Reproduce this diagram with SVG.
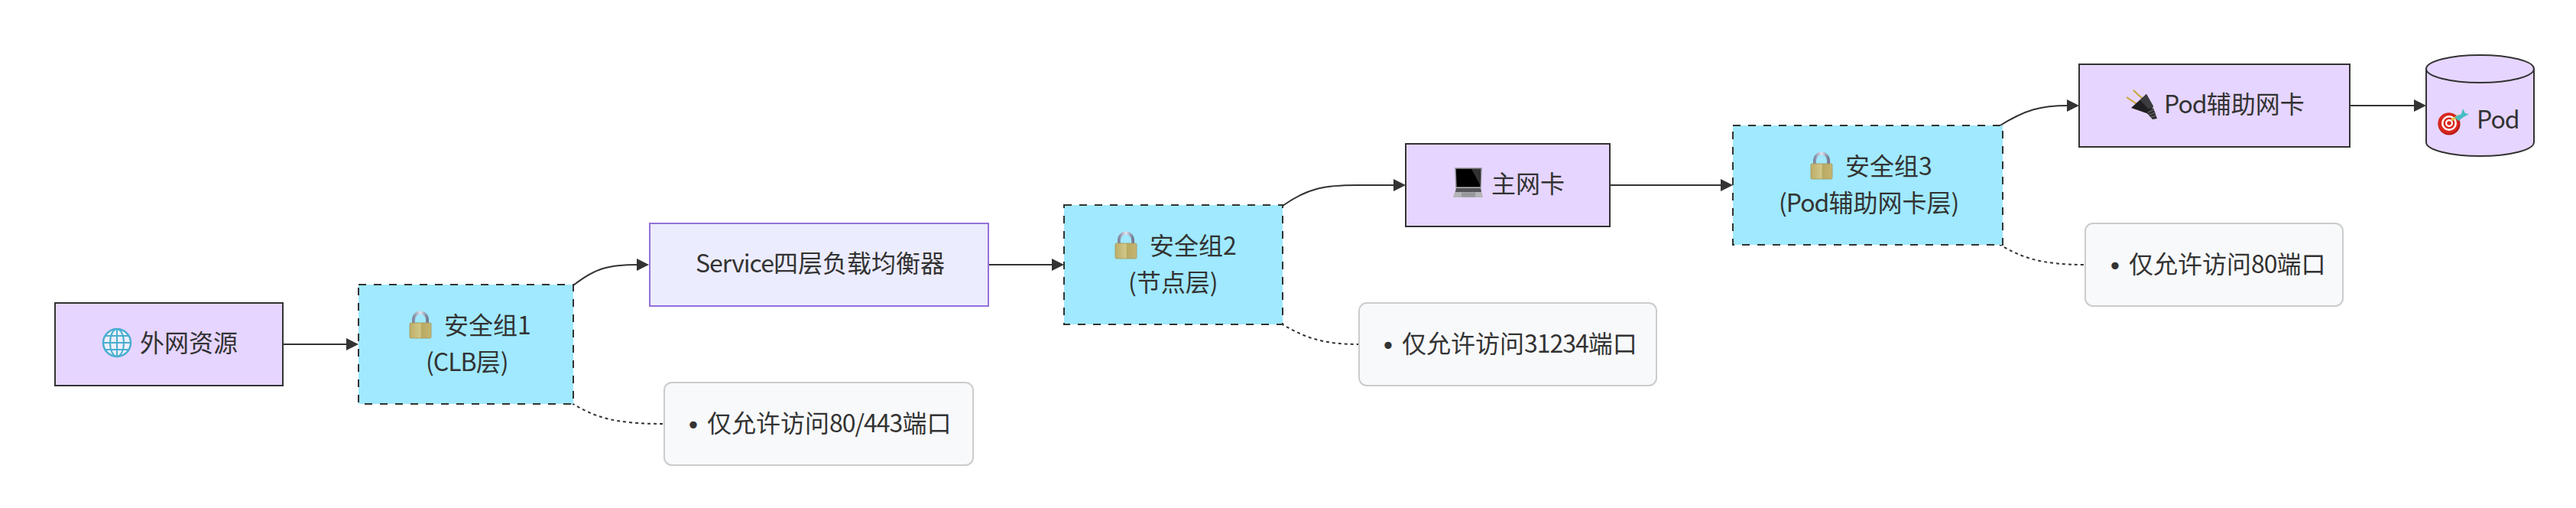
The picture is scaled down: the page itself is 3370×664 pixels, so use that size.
<svg xmlns="http://www.w3.org/2000/svg" width="3370" height="664" viewBox="0 0 3370 664">
<style>
text{font-family:"Noto Sans CJK SC","Noto Sans",sans-serif;font-size:32px;fill:#333}
text.b{font-family:"DejaVu Sans",sans-serif}
tspan.l{letter-spacing:-1px}
.res{fill:#e6d5ff;stroke:#333;stroke-width:2}
.sec{fill:#a0e9ff;stroke:#333;stroke-width:2;stroke-dasharray:10 10}
.svc{fill:#ececff;stroke:#9370db;stroke-width:2}
.note{fill:#f8f9fa;stroke:#ccc;stroke-width:2}
.flow{fill:none;stroke:#333;stroke-width:2}
.dot{fill:none;stroke:#333;stroke-width:2;stroke-dasharray:4 4}
</style>
<defs>
<marker id="arrow" markerUnits="userSpaceOnUse" markerWidth="16" markerHeight="16" refX="2" refY="8" orient="auto"><path d="M0,0L16,8L0,16z" fill="#333"/></marker>
<linearGradient id="gold" x1="0" x2="1" y1="0" y2="0"><stop offset="0" stop-color="#bcae68"/><stop offset=".5" stop-color="#d2c788"/><stop offset=".55" stop-color="#b8a962"/><stop offset="1" stop-color="#c4b673"/></linearGradient>
<linearGradient id="shackle" x1="0" x2="1" y1="0" y2="0"><stop offset="0" stop-color="#7f88a0"/><stop offset=".5" stop-color="#e4e6f0"/><stop offset="1" stop-color="#727b94"/></linearGradient>
<g id="lock">
<path d="M5,16V11A9,9.500 0 0 1 23,11V16" fill="none" stroke="url(#shackle)" stroke-width="4"/>
<rect x="0" y="15" width="28" height="20" rx="1.500" fill="url(#gold)" stroke="#a3945a" stroke-width=".8"/>
</g>
<g id="globe">
<circle cx="19" cy="19" r="18" fill="#eef0fb" stroke="#4aaed0" stroke-width="2.500"/>
<ellipse cx="19" cy="19" rx="9" ry="18" fill="none" stroke="#4aaed0" stroke-width="2"/>
<path d="M19,1V37M3,10H35M1,19H37M3,28H35" fill="none" stroke="#4aaed0" stroke-width="2"/>
</g>
<g id="laptop">
<path d="M3,0H37L36,25H4z" fill="#000" stroke="#8d8d95" stroke-width="1.500"/>
<path d="M24,1H36L35,21z" fill="#333"/>
<path d="M4,25H36L39,38H0z" fill="#b4b4b8"/>
<path d="M4,26H36L37,31H3z" fill="#55555a"/>
<rect x="11" y="31.500" width="18" height="6" fill="#97979c"/>
</g>
<g id="plug">
<path d="M0,10L15,20M9,1L22,13" stroke="#c9a52f" stroke-width="2" fill="none"/>
<path d="M6,24L26,6L35,22L29,32z" fill="#1f1f21"/>
<path d="M18,14L26,6L35,22L29,26z" fill="#3c3c40"/>
<path d="M26,30L35,24L40,38L34,39z" fill="#2e2e30"/>
<path d="M28,30L36,26M30,33L38,30M32,36L39,34" stroke="#77777b" stroke-width="1" fill="none"/>
</g>
<g id="dart">
<circle cx="15" cy="20" r="14.500" fill="#b81a14"/>
<circle cx="14" cy="19" r="13.500" fill="#d9281e"/>
<circle cx="15" cy="19" r="10" fill="#fff"/>
<circle cx="15" cy="19" r="7.500" fill="#d9281e"/>
<circle cx="15" cy="19" r="5" fill="#fff"/>
<circle cx="15" cy="19" r="2.800" fill="#d9281e"/>
<path d="M18,15L28,9" stroke="#e0c040" stroke-width="3"/>
<path d="M22,11L31,7L33,0L36,6L41,7L34,11L27,16z" fill="#46bcc4"/>
</g>
</defs>
<rect width="3370" height="664" fill="#fff"/>
<g id="connectors">
<path class="flow" marker-end="url(#arrow)" d="M370,450H455"/>
<path class="flow" marker-end="url(#arrow)" d="M750,373C778,351 795,346 835,346"/>
<path class="flow" marker-end="url(#arrow)" d="M1293,346H1378"/>
<path class="flow" marker-end="url(#arrow)" d="M1678,269C1712,245 1735,242 1775,242L1825,242"/>
<path class="flow" marker-end="url(#arrow)" d="M2106,242H2253"/>
<path class="flow" marker-end="url(#arrow)" d="M2615,165C2650,143 2670,138 2706,138"/>
<path class="flow" marker-end="url(#arrow)" d="M3074,138H3160"/>
<path class="dot" d="M748,527C778,545 802,554 868,554"/>
<path class="dot" d="M1676,423C1706,441 1730,450 1778,450"/>
<path class="dot" d="M2615,319C2645,337 2670,346 2728,346"/>
</g>
<g id="node-internet"><rect class="res" x="72" y="396" width="298" height="108"/><use href="#globe" x="134" y="429"/><text x="183" y="460">外网资源</text></g>
<g id="node-sg1"><rect class="sec" x="469" y="372" width="281" height="156"/><use href="#lock" x="536" y="407"/><text x="581" y="437">安全组<tspan class="l">1</tspan></text><text x="557" y="485"><tspan class="l">(CLB</tspan>层)</text></g>
<g id="node-note1"><rect class="note" x="869" y="500" width="404" height="108" rx="10"/><text class="b" x="897.500" y="567">•</text><text x="925" y="565">仅允许访问<tspan class="l">80/443</tspan>端口</text></g>
<g id="node-clb"><rect class="svc" x="850" y="292" width="443" height="108"/><text x="910" y="356"><tspan class="l">Service</tspan>四层负载均衡器</text></g>
<g id="node-sg2"><rect class="sec" x="1392" y="268" width="286" height="156"/><use href="#lock" x="1459" y="303"/><text x="1504" y="333">安全组<tspan class="l">2</tspan></text><text x="1476" y="381">(节点层)</text></g>
<g id="node-note2"><rect class="note" x="1778" y="396" width="389" height="108" rx="10"/><text class="b" x="1806.500" y="463">•</text><text x="1834" y="461">仅允许访问<tspan class="l">31234</tspan>端口</text></g>
<g id="node-eni"><rect class="res" x="1839" y="188" width="267" height="108"/><use href="#laptop" x="1901" y="220"/><text x="1951" y="252">主网卡</text></g>
<g id="node-sg3"><rect class="sec" x="2267" y="164" width="353" height="156"/><use href="#lock" x="2369" y="199"/><text x="2414" y="229">安全组<tspan class="l">3</tspan></text><text x="2327" y="277"><tspan class="l">(Pod</tspan>辅助网卡层)</text></g>
<g id="node-note3"><rect class="note" x="2728" y="292" width="337" height="108" rx="10"/><text class="b" x="2757.500" y="359">•</text><text x="2785" y="357">仅允许访问<tspan class="l">80</tspan>端口</text></g>
<g id="node-podeni"><rect class="res" x="2720" y="84" width="354" height="108"/><use href="#plug" x="2782" y="117"/><text x="2831" y="148"><tspan class="l">Pod</tspan>辅助网卡</text></g>
<g id="node-pod"><path class="res" d="M3174,90A70.500,18 0 0 1 3315,90V186A70.500,18 0 0 1 3174,186z"/><path class="res" style="fill:none" d="M3174,90A70.500,18 0 0 0 3315,90"/><use href="#dart" x="3189" y="142"/><text x="3240" y="168"><tspan class="l">Pod</tspan></text></g>
</svg>
